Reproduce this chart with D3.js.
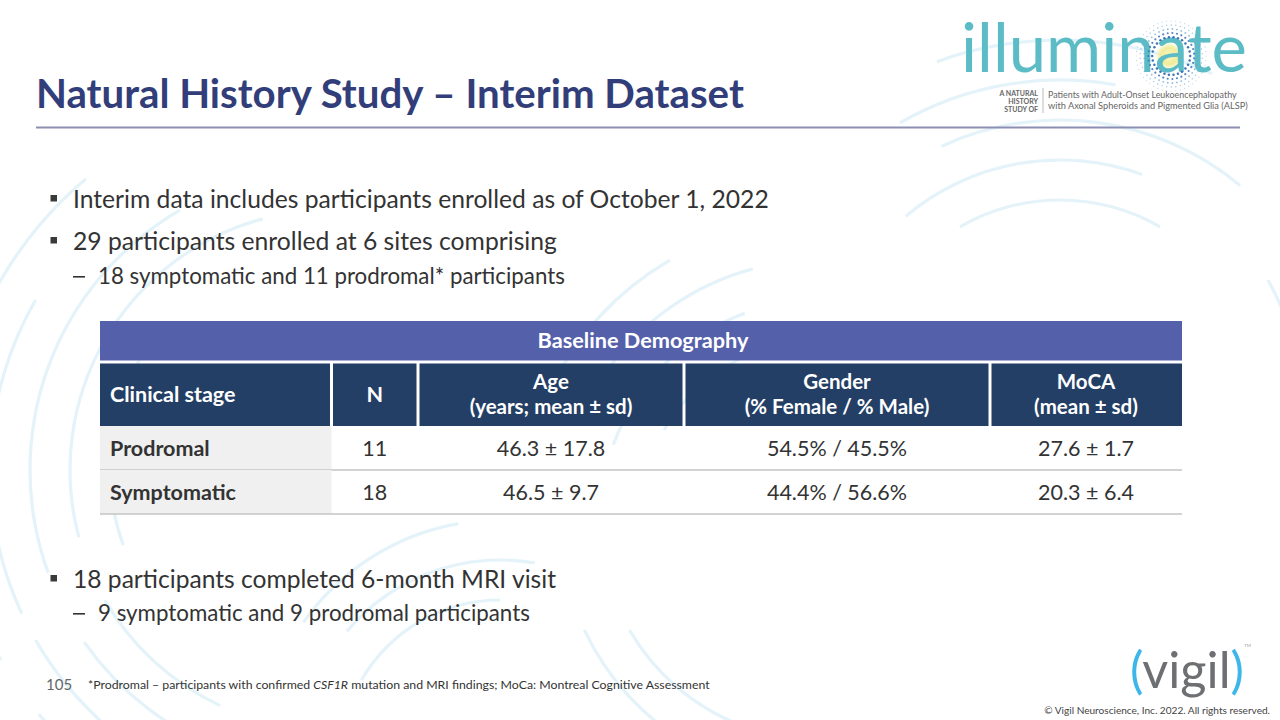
<!DOCTYPE html>
<html>
<head>
<meta charset="utf-8">
<script src="https://cdn.jsdelivr.net/npm/d3@7"></script>
<style>
  html,body{margin:0;padding:0;background:#fff;}
  svg{display:block;}
  text{font-family:Lato,"Open Sans","Noto Sans",sans-serif;}
</style>
</head>
<body>
<script>
// ---------------- DATA ----------------
const slideTitle = "Natural History Study – Interim Dataset";
const bulletsTop = [
  {level:1, text:"Interim data includes participants enrolled as of October 1, 2022"},
  {level:1, text:"29 participants enrolled at 6 sites comprising"},
  {level:2, text:"18 symptomatic and 11 prodromal* participants"}
];
const bulletsBottom = [
  {level:1, text:"18 participants completed 6-month MRI visit"},
  {level:2, text:"9 symptomatic and 9 prodromal participants"}
];
const tableTitle = "Baseline Demography";
const columnHeaders = [
  ["Clinical stage"],
  ["N"],
  ["Age", "(years; mean ± sd)"],
  ["Gender", "(% Female / % Male)"],
  ["MoCA", "(mean ± sd)"]
];
const stages = ["Prodromal", "Symptomatic"];
const nValues = ["11", "18"];
const ageValues = ["46.3 ± 17.8", "46.5 ± 9.7"];
const genderValues = ["54.5% / 45.5%", "44.4% / 56.6%"];
const mocaValues = ["27.6 ± 1.7", "20.3 ± 6.4"];
const pageNumber = "105";
const footnoteParts = [
  {t:"*Prodromal – participants with confirmed ", italic:false},
  {t:"CSF1R", italic:true},
  {t:" mutation and MRI findings; MoCa: Montreal Cognitive Assessment", italic:false}
];
const copyright = "© Vigil Neuroscience, Inc. 2022. All rights reserved.";
const logoWord = "illuminate";
const logoLeft = ["A NATURAL", "HISTORY", "STUDY OF"];
const logoRight = ["Patients with Adult-Onset Leukoencephalopathy", "with Axonal Spheroids and Pigmented Glia (ALSP)"];

// ---------------- LAYOUT ----------------
const W = 1280, H = 720;
const svg = d3.select("body").append("svg").attr("width", W).attr("height", H);

function fit(sel, w) {
  const fs = parseFloat(sel.attr("font-size"));
  const len = sel.node().getComputedTextLength();
  if (len > 0) sel.attr("font-size", fs * w / len);
  return sel;
}

// background decorative arcs (very faint)
const decoArcs = [
  [330, 470, 300, 250, 330], [330, 470, 340, 245, 300], [330, 470, 380, 240, 320],
  [330, 470, 260, 255, 345], [330, 470, 220, 250, 300], [330, 470, 300, 200, 235],
  [330, 470, 340, 195, 240], [330, 470, 380, 205, 230], [330, 470, 260, 205, 240],
  [330, 470, 420, 250, 290],
  [1060, 400, 200, 330, 390], [1060, 400, 240, 320, 380], [1060, 400, 280, 335, 400],
  [1060, 400, 320, 330, 370], [1060, 400, 360, 340, 385], [1060, 400, 240, 60, 110],
  [1060, 400, 280, 70, 115], [1060, 400, 320, 55, 95],
  [820, 520, 180, 300, 350], [820, 520, 220, 290, 340], [820, 520, 260, 305, 345],
  [820, 520, 300, 295, 330], [820, 520, 220, 200, 240], [820, 520, 260, 210, 245],
  [500, 760, 160, 300, 360], [500, 760, 200, 310, 370], [500, 760, 240, 305, 350]
];
const arcGen = d3.arc();
svg.append("g").selectAll("path").data(decoArcs).join("path")
  .attr("transform", d => `translate(${d[0]},${d[1]})`)
  .attr("d", d => arcGen({innerRadius: d[2] - 1.6, outerRadius: d[2] + 1.6,
        startAngle: d[3] * Math.PI / 180, endAngle: d[4] * Math.PI / 180}))
  .attr("fill", "#e4f3fa");

// ---------------- TITLE ----------------
fit(svg.append("text").attr("x", 36).attr("y", 108)
  .attr("font-size", 38).attr("font-weight", 700).attr("fill", "#323e7a")
  .text(slideTitle), 708);
svg.append("line").attr("x1", 36).attr("x2", 1240).attr("y1", 127.5).attr("y2", 127.5)
  .attr("stroke", "#8c8fb2").attr("stroke-width", 2);

// ---------------- BULLETS ----------------
function drawBullets(items, baselines, widths) {
  items.forEach((b, i) => {
    const y = baselines[i];
    if (b.level === 1) {
      svg.append("rect").attr("x", 50.5).attr("y", y - 13).attr("width", 6.5).attr("height", 6.5)
        .attr("fill", "#3a3a3a");
      fit(svg.append("text").attr("x", 73).attr("y", y).attr("font-size", 22)
        .attr("fill", "#333").text(b.text), widths[i]);
    } else {
      svg.append("rect").attr("x", 73).attr("y", y - 8).attr("width", 12).attr("height", 1.6)
        .attr("fill", "#333");
      fit(svg.append("text").attr("x", 98).attr("y", y).attr("font-size", 19)
        .attr("fill", "#333").text(b.text), widths[i]);
    }
  });
}
drawBullets(bulletsTop, [208, 250, 284], [696, 484, 467]);
drawBullets(bulletsBottom, [588, 621], [483, 432]);

// ---------------- TABLE ----------------
const colEdges = [100, 331.5, 418, 684, 990, 1182];
const tTop = 321, tTitleBot = 360.5, hTop = 363.5, hBot = 426;
const rowY = d3.scaleBand().domain(stages).range([426, 514]);

svg.append("rect").attr("x", colEdges[0]).attr("y", tTop)
  .attr("width", colEdges[5] - colEdges[0]).attr("height", tTitleBot - tTop).attr("fill", "#5560ab");
fit(svg.append("text").attr("x", (colEdges[0] + colEdges[5]) / 2 + 2).attr("y", 348)
  .attr("text-anchor", "middle").attr("font-size", 20).attr("font-weight", 700)
  .attr("fill", "#fff").text(tableTitle), 211);

const g = svg.append("g");
columnHeaders.forEach((h, i) => {
  const x0 = colEdges[i] + (i > 0 ? 1.5 : 0);
  const x1 = colEdges[i + 1] - (i < columnHeaders.length - 1 ? 1.5 : 0);
  g.append("rect").attr("x", x0).attr("y", hTop).attr("width", x1 - x0).attr("height", hBot - hTop)
    .attr("fill", "#243f66");
  const cx = (colEdges[i] + colEdges[i + 1]) / 2;
  if (i === 0) {
    g.append("text").attr("x", 110).attr("y", 402).attr("font-size", 21.5)
      .attr("font-weight", 700).attr("fill", "#fff").text(h[0]);
  } else if (h.length === 1) {
    g.append("text").attr("x", cx).attr("y", 402).attr("text-anchor", "middle").attr("font-size", 21.5)
      .attr("font-weight", 700).attr("fill", "#fff").text(h[0]);
  } else {
    g.append("text").attr("x", cx).attr("y", 389).attr("text-anchor", "middle").attr("font-size", 20.5)
      .attr("font-weight", 700).attr("fill", "#fff").text(h[0]);
    g.append("text").attr("x", cx).attr("y", 414).attr("text-anchor", "middle").attr("font-size", 20.5)
      .attr("font-weight", 700).attr("fill", "#fff").text(h[1]);
  }
});

const bodyCols = [nValues, ageValues, genderValues, mocaValues];
stages.forEach((s, r) => {
  const y0 = rowY(s), bh = rowY.bandwidth();
  svg.append("rect").attr("x", colEdges[0]).attr("y", y0).attr("width", colEdges[1] - colEdges[0])
    .attr("height", bh).attr("fill", "#f0f0f0");
  svg.append("line").attr("x1", colEdges[0]).attr("x2", colEdges[5])
    .attr("y1", y0 + bh).attr("y2", y0 + bh).attr("stroke", "#c4c4c4").attr("stroke-width", 1.6);
  svg.append("text").attr("x", 110).attr("y", y0 + bh / 2 + 8).attr("font-size", 21.5)
    .attr("font-weight", 700).attr("fill", "#333").text(s);
  bodyCols.forEach((vals, c) => {
    const cx = (colEdges[c + 1] + colEdges[c + 2]) / 2;
    svg.append("text").attr("x", cx).attr("y", y0 + bh / 2 + 8).attr("text-anchor", "middle")
      .attr("font-size", 21.5).attr("fill", "#333").text(vals[r]);
  });
});

// ---------------- FOOTER ----------------
svg.append("text").attr("x", 46).attr("y", 690).attr("font-size", 15).attr("fill", "#666").text(pageNumber);
const fn = svg.append("text").attr("x", 88).attr("y", 689).attr("font-size", 12).attr("fill", "#333");
fn.selectAll("tspan").data(footnoteParts).join("tspan")
  .attr("font-style", d => d.italic ? "italic" : "normal").text(d => d.t);
fit(fn, 622);

fit(svg.append("text").attr("x", 1270).attr("y", 714).attr("text-anchor", "end")
  .attr("font-size", 11).attr("fill", "#444").text(copyright), 226);

// vigil logo
const vg = svg.append("text").attr("x", 1130).attr("y", 688).attr("font-size", 54).attr("font-weight", 400);
vg.append("tspan").attr("fill", "#3db7e9").text("(");
vg.append("tspan").attr("fill", "#6e6f72").text("vigil");
vg.append("tspan").attr("fill", "#3db7e9").text(")");
fit(vg, 114);
svg.append("text").attr("x", 1244).attr("y", 647).attr("font-size", 4.5).attr("fill", "#999").text("TM");

// ---------------- ILLUMINATE LOGO ----------------
const logoG = svg.append("g");
const lw = logoG.append("text").attr("x", 961).attr("y", 72).attr("font-size", 64)
  .attr("font-weight", 400).attr("fill", "#5cbcc6").text(logoWord);
fit(lw, 286);
const aIdx = logoWord.indexOf("a");
const aStart = lw.node().getStartPositionOfChar(aIdx).x;
const aEnd = lw.node().getEndPositionOfChar(aIdx).x;
const acx = (aStart + aEnd) / 2, acy = 56;
const defs = svg.append("defs");
const rg = defs.append("radialGradient").attr("id", "glow");
rg.append("stop").attr("offset", "0%").attr("stop-color", "#fbf6c0");
rg.append("stop").attr("offset", "60%").attr("stop-color", "#f1ec9a");
rg.append("stop").attr("offset", "100%").attr("stop-color", "#f1ec9a").attr("stop-opacity", 0);
logoG.insert("circle", "text").attr("cx", acx - 2).attr("cy", acy).attr("r", 14).attr("fill", "url(#glow)");
const dotRings = [19, 23, 27, 31, 35];
dotRings.forEach((r, k) => {
  const n = Math.round(2 * Math.PI * r / 4.6);
  const pts = d3.range(n).map(j => (j + (k % 2) * 0.5) / n * 2 * Math.PI);
  logoG.append("g").selectAll("circle").data(pts).join("circle")
    .attr("cx", a => acx + r * Math.cos(a)).attr("cy", a => acy + r * Math.sin(a))
    .attr("r", 1.25 - k * 0.17).attr("fill", k < 2 ? "#3f74b8" : "#6aa7d8").attr("opacity", 1 - k * 0.13);
});
logoLeft.forEach((t, i) => {
  logoG.append("text").attr("x", 1038).attr("y", 96 + i * 8).attr("text-anchor", "end")
    .attr("font-size", 7).attr("font-weight", 700).attr("fill", "#666").text(t);
});
logoG.append("line").attr("x1", 1043).attr("x2", 1043).attr("y1", 88).attr("y2", 113)
  .attr("stroke", "#aaa").attr("stroke-width", 0.8);
logoRight.forEach((t, i) => {
  fit(logoG.append("text").attr("x", 1048).attr("y", 98 + i * 11)
    .attr("font-size", 9.5).attr("fill", "#666").text(t), i === 0 ? 189 : 200);
});
</script>
</body>
</html>
